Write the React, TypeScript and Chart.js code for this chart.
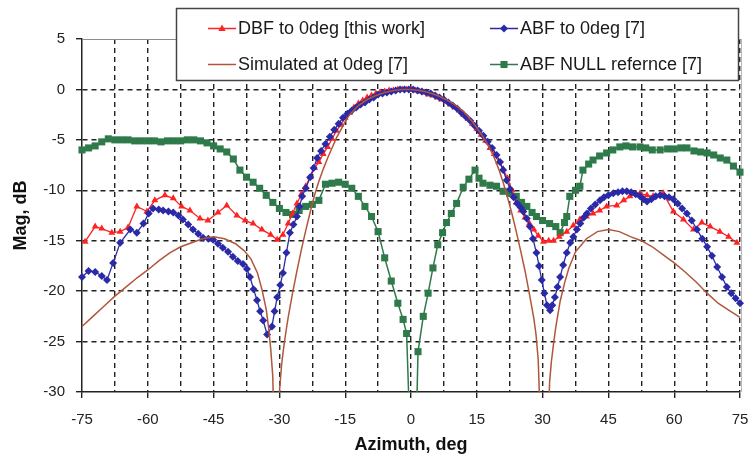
import React, { useEffect, useRef } from 'react';
import { Chart, registerables } from 'chart.js';

Chart.register(...registerables);

const FONT = '"Liberation Sans", Arial, Helvetica, sans-serif';

// Axis ticks
const X_TICKS = [-75, -67.5, -60, -52.5, -45, -37.5, -30, -22.5, -15, -7.5, 0, 7.5, 15, 22.5, 30, 37.5, 45, 52.5, 60, 67.5, 75];
const Y_TICKS = [5, 0, -5, -10, -15, -20, -25, -30];

const SERIES_LABELS = ['DBF to 0deg [this work]', 'ABF to 0deg [7]', 'Simulated at 0deg [7]', 'ABF NULL refernce [7]'];

// [azimuth deg, magnitude dB]
const DBF_POINTS: [number, number][] = [
  [-74.3, -15.1], [-72, -13.6], [-70.5, -13.8], [-68.2, -14.2], [-66.3, -14.1], [-64.5, -13.7], [-62.5, -11.6], [-60.2, -12.1],
  [-58.4, -11.0], [-56.1, -10.5], [-54.2, -10.8], [-52.3, -11.6], [-50.4, -12.0], [-48.1, -12.8], [-46.3, -13.0], [-44, -12.2],
  [-42, -11.5], [-39.7, -12.5], [-37.8, -13.0], [-36, -13.3], [-34, -13.9], [-32, -14.4], [-30.5, -14.9], [-29.2, -14.4], [-28, -13.3],
  [-27, -12.3], [-26, -11.3], [-25, -10.4], [-24, -9.6], [-23, -8.7], [-22, -7.8], [-21, -7.2], [-20, -6.4], [-19, -5.7], [-18, -4.9],
  [-17, -4.1], [-16, -3.5], [-15, -2.8], [-14, -2.3], [-13, -1.8], [-12, -1.4], [-11, -1.1], [-10, -0.8], [-9, -0.6], [-8, -0.4],
  [-7, -0.3], [-6, -0.2], [-5, -0.1], [-4, -0.1], [-3, 0], [-2, 0], [-1, 0], [0, 0], [1, -0.1], [2, -0.2], [3, -0.3], [4, -0.5],
  [5, -0.6], [6, -0.8], [7, -1.0], [8, -1.2], [9, -1.5], [10, -1.8], [11, -2.1], [12, -2.5], [13, -2.9], [14, -3.4], [15, -3.9],
  [16, -4.5], [17, -5.1], [18, -5.8], [19, -6.4], [20, -7.2], [21, -7.9], [22, -8.8], [23, -10.0], [24, -11.2], [25, -12.0],
  [26, -12.7], [27, -13.3], [28, -13.9], [29, -14.5], [30.2, -15.1], [31.4, -15.0], [32.5, -15.0], [33.8, -14.6], [35.5, -14.1],
  [37, -13.5], [38.5, -12.9], [40, -12.6], [41.5, -12.3], [43, -12.0], [44.6, -11.6], [46.9, -11.5], [48.5, -11.0], [49.9, -10.6],
  [52.2, -10.3], [53.8, -10.5], [55.2, -10.6], [57.5, -10.3], [59.8, -12.1], [62.1, -12.9], [64.4, -13.9], [66.3, -13.2],
  [68.2, -13.6], [70.4, -14.1], [72.4, -14.6], [74.3, -15.2],
];

const ABF_POINTS: [number, number][] = [
  [-75, -18.6], [-73.5, -18.0], [-72, -18.1], [-70.5, -18.5], [-69.3, -18.9], [-67.9, -17.2], [-66.3, -15.2], [-64, -13.9],
  [-62.5, -14.2], [-61, -13.3], [-59.8, -12.3], [-58.8, -11.8], [-57.5, -11.9], [-56.5, -12.0], [-55.3, -12.1], [-54.2, -12.2],
  [-53, -12.5], [-52, -12.9], [-50.8, -13.4], [-49.7, -13.9], [-48.5, -14.3], [-47.4, -14.7], [-46.2, -14.8], [-45.1, -14.9],
  [-44, -15.3], [-42.9, -15.7], [-41.7, -16.1], [-40.6, -16.6], [-39.5, -17.0], [-38.3, -17.3], [-37.4, -17.8], [-36.7, -18.6],
  [-35.9, -19.8], [-35.1, -20.9], [-34.4, -22.0], [-33.7, -22.9], [-32.8, -24.3], [-31.7, -23.5], [-31.1, -22.0], [-30.5, -20.6],
  [-29.8, -19.4], [-29.2, -18.2], [-28.4, -16.2], [-27.6, -14.2], [-26.8, -13.4], [-26, -12.6], [-25.4, -11.6], [-24.8, -10.6],
  [-24, -9.8], [-23, -8.7], [-22.2, -7.8], [-21.4, -6.8], [-20.5, -6.1], [-19.5, -5.4], [-18.5, -4.7], [-17.5, -4.0], [-16.5, -3.4],
  [-15.5, -2.8], [-14.5, -2.4], [-13.5, -2.1], [-12.5, -1.8], [-11.5, -1.5], [-10.5, -1.3], [-9.5, -1.0], [-8.5, -0.8], [-7.5, -0.5],
  [-6.5, -0.4], [-5.5, -0.3], [-4.5, -0.2], [-3.5, -0.1], [-2.5, 0], [-1.5, 0], [-0.5, 0], [0.5, 0], [1.5, -0.1], [2.5, -0.2],
  [3.5, -0.3], [4.5, -0.4], [5.5, -0.6], [6.5, -0.8], [7.5, -1.0], [8.5, -1.3], [9.5, -1.6], [10.5, -1.9], [11.5, -2.3], [12.5, -2.7],
  [13.5, -3.1], [14.5, -3.6], [15.5, -4.1], [16.5, -4.6], [17.5, -5.2], [18.5, -5.8], [19.5, -6.5], [20.3, -7.2], [21, -8.0],
  [21.8, -9.0], [22.6, -9.9], [23.4, -10.7], [24.2, -11.3], [25, -11.7], [25.6, -12.1], [26.4, -12.8], [27.1, -13.6], [27.8, -14.8],
  [28.6, -16.2], [29.2, -17.5], [29.8, -18.9], [30.4, -20.2], [31, -21.4], [31.7, -21.9], [32.2, -21.4], [32.8, -20.6], [33.4, -19.6],
  [34, -18.6], [34.7, -17.4], [35.5, -16.2], [36.3, -15.2], [37, -14.6], [37.8, -13.9], [38.6, -13.3], [39.4, -12.7], [40.1, -12.3],
  [41, -11.8], [42, -11.4], [43.1, -11.0], [44, -10.7], [45, -10.5], [46.1, -10.3], [47.2, -10.2], [48.2, -10.1], [49.2, -10.1],
  [50.2, -10.2], [51.2, -10.4], [52.2, -10.6], [53, -10.9], [53.8, -11.1], [54.8, -10.9], [55.8, -10.6], [56.8, -10.5], [57.8, -10.6],
  [58.8, -10.7], [59.8, -10.9], [60.8, -11.3], [61.8, -11.8], [62.9, -12.3], [64, -13.0], [65.2, -13.9], [66.4, -14.8], [67.5, -15.6],
  [68.6, -16.5], [69.8, -17.6], [70.9, -18.6], [72, -19.6], [73, -20.2], [74, -20.7], [75, -21.2],
];

const SIM_POINTS: [number, number][] = [
  [-75, -23.5], [-72.5, -22.5], [-70, -21.5], [-67.5, -20.5], [-65, -19.6], [-62.5, -18.7], [-60, -17.9], [-57.5, -17.0],
  [-55, -16.2], [-52.5, -15.6], [-50, -15.2], [-47.5, -14.8], [-45, -14.6], [-42.5, -14.8], [-40, -15.3], [-38, -16.0],
  [-36.5, -16.8], [-35, -18.2], [-34, -19.8], [-33, -21.8], [-32.5, -23.5], [-32, -25.6], [-31.5, -28.5], [-30.8, -45],
  [-30, -30], [-29.5, -27.3], [-29, -25.5], [-28.5, -24.0], [-28, -22.6], [-27, -20.2], [-26, -18.0], [-25, -15.9], [-24, -14.0],
  [-23, -12.2], [-22, -10.5], [-21, -9.1], [-20, -7.9], [-19, -6.8], [-18, -5.8], [-17, -4.8], [-16, -4.0], [-15, -3.2],
  [-14, -2.5], [-12, -1.6], [-10, -1.0], [-8, -0.6], [-6, -0.3], [-4, -0.1], [-2, 0], [0, 0], [2, -0.1], [4, -0.3], [6, -0.6],
  [8, -1.0], [10, -1.5], [12, -2.2], [14, -3.2], [15, -3.8], [16, -4.4], [17, -5.1], [18, -5.9], [19, -6.8], [20, -7.9],
  [21, -9.2], [22, -10.7], [23, -12.3], [24, -14.1], [25, -16.0], [26, -18.0], [27, -20.3], [28, -22.7], [28.5, -24.3],
  [29, -26.8], [30.4, -45], [31.6, -29.0], [32, -27.0], [32.5, -25.2], [33, -23.6], [34, -21.0], [35, -19.2], [36, -17.7],
  [37.5, -16.1], [40, -14.8], [42.5, -14.1], [45, -13.9], [47.5, -14.1], [50, -14.6], [52.5, -15.0], [55, -15.6], [57.5, -16.4],
  [60, -17.2], [62.5, -18.1], [65, -19.1], [67.5, -20.2], [70, -21.2], [72.5, -21.9], [75, -22.6],
];

const NULL_POINTS: [number, number][] = [
  [-75, -6.0], [-73.5, -5.8], [-72, -5.6], [-70.5, -5.2], [-69, -4.9], [-67.5, -5.0], [-66, -5.0], [-64.5, -5.0], [-63, -5.1],
  [-61.5, -5.1], [-60, -5.1], [-58.5, -5.1], [-57, -5.2], [-55.5, -5.1], [-54, -5.1], [-52.5, -5.1], [-51, -5.0], [-49.5, -5.0],
  [-48, -5.1], [-46.5, -5.3], [-45, -5.6], [-43.5, -5.9], [-42, -6.2], [-40.5, -6.9], [-39, -8.0], [-37.5, -8.7], [-36, -9.2],
  [-34.5, -9.8], [-33, -10.5], [-31.5, -11.2], [-30, -11.8], [-28.5, -12.2], [-27, -12.4], [-25.5, -12.0], [-24, -11.6],
  [-22.5, -11.4], [-21, -11.0], [-19.5, -9.4], [-18, -9.3], [-16.5, -9.2], [-15, -9.4], [-13.5, -9.8], [-12, -10.6], [-10.5, -11.6],
  [-9, -12.6], [-7.5, -14.1], [-6, -16.7], [-4.5, -19.0], [-3, -21.2], [-1.8, -22.8], [-1, -24.2], [0.6, -45], [1.6, -26.0],
  [2.8, -22.5], [3.9, -20.2], [5, -17.7], [6.1, -15.4], [7.2, -14.2], [8.1, -13.2], [9.2, -12.3], [10.4, -11.3], [11.9, -9.7],
  [13.2, -8.9], [14.6, -8.0], [15.5, -8.8], [16.4, -9.3], [18, -9.5], [19.5, -9.6], [21, -10.1], [22.5, -10.3], [24, -10.6],
  [25.2, -11.2], [26.4, -11.6], [27.6, -12.2], [28.6, -12.6], [30, -13.0], [31.6, -13.3], [33, -13.6], [34, -14.2], [35, -13.2],
  [35.5, -12.6], [36.2, -10.6], [37.5, -10.0], [38.5, -9.6], [39.2, -8.0], [40.5, -7.4], [41.5, -7.0], [43, -6.6], [44.6, -6.3],
  [46, -6.0], [47.6, -5.7], [49, -5.6], [50.5, -5.7], [52.2, -5.7], [53.5, -5.8], [55, -6.0], [56.8, -6.0], [58.5, -5.9],
  [60, -5.9], [61.5, -5.8], [62.9, -5.8], [64.5, -6.1], [66, -6.2], [67.5, -6.3], [69, -6.5], [70.5, -6.8], [72, -7.0],
  [73.5, -7.6], [75, -8.2],
];

const COLORS = { dbf: '#ff2222', abf: '#2a2aa8', sim: '#b0563a', nul: '#2e7a4a' };

const toXY = (pts: [number, number][]) => pts.map(([x, y]) => ({ x, y }));

function drawMarker(ctx: CanvasRenderingContext2D, style: string, x: number, y: number, r: number, color: string) {
  ctx.fillStyle = color;
  ctx.beginPath();
  if (style === 'triangle') {
    ctx.moveTo(x, y - r);
    ctx.lineTo(x + r * 0.9, y + r * 0.6);
    ctx.lineTo(x - r * 0.9, y + r * 0.6);
  } else if (style === 'rectRot') {
    ctx.moveTo(x, y - r);
    ctx.lineTo(x + r, y);
    ctx.lineTo(x, y + r);
    ctx.lineTo(x - r, y);
  } else if (style === 'rect') {
    const s = r * Math.SQRT1_2;
    ctx.rect(x - s, y - s, 2 * s, 2 * s);
  }
  ctx.closePath();
  ctx.fill();
}

const framePlugin = {
  id: 'frame',
  beforeDatasetsDraw(chart: any) {
    const { ctx, chartArea: a } = chart;
    ctx.save();
    ctx.lineWidth = 1;
    ctx.strokeStyle = '#8c8c8c';
    ctx.beginPath();
    ctx.moveTo(a.left, a.top + 0.5);
    ctx.lineTo(a.right + 1.5, a.top + 0.5);
    ctx.stroke();
    ctx.strokeStyle = '#b8b8b8';
    ctx.beginPath();
    ctx.moveTo(a.right + 1.5, a.top);
    ctx.lineTo(a.right + 1.5, a.bottom);
    ctx.stroke();
    ctx.restore();
  },
};

const legendPlugin = {
  id: 'boxLegend',
  afterDraw(chart: any) {
    const ctx: CanvasRenderingContext2D = chart.ctx;
    ctx.save();
    ctx.fillStyle = '#ffffff';
    ctx.fillRect(176, 8, 562, 72);
    ctx.strokeStyle = '#444444';
    ctx.lineWidth = 1.5;
    ctx.strokeRect(176.5, 8.5, 562, 72);
    const slots = [
      { ds: 0, x: 208, y: 28 },
      { ds: 1, x: 490, y: 28 },
      { ds: 2, x: 208, y: 64 },
      { ds: 3, x: 490, y: 64 },
    ];
    ctx.font = `18px ${FONT}`;
    ctx.textBaseline = 'middle';
    ctx.textAlign = 'left';
    slots.forEach((s) => {
      const d = chart.data.datasets[s.ds];
      ctx.strokeStyle = d.borderColor;
      ctx.lineWidth = 1.5;
      ctx.beginPath();
      ctx.moveTo(s.x, s.y + 0.5);
      ctx.lineTo(s.x + 28, s.y + 0.5);
      ctx.stroke();
      if (d.pointRadius > 0) drawMarker(ctx, d.pointStyle, s.x + 14, s.y + 0.5, d.pointRadius, d.pointBackgroundColor);
      ctx.fillStyle = '#1a1a1a';
      ctx.fillText(d.label, s.x + 30, s.y + 1);
    });
    ctx.restore();
  },
};

export default function App() {
  const ref = useRef<HTMLCanvasElement>(null);

  useEffect(() => {
    const canvas = ref.current;
    if (!canvas) return;
    const clip = { left: 6, right: 6, top: 6, bottom: 0 };
    const chart = new Chart(canvas, {
      type: 'scatter',
      data: {
        datasets: [
          {
            label: SERIES_LABELS[0], data: toXY(DBF_POINTS), showLine: true, borderColor: COLORS.dbf, borderWidth: 1.3,
            pointStyle: 'triangle', pointRadius: 4, pointBackgroundColor: COLORS.dbf, pointBorderColor: COLORS.dbf, pointBorderWidth: 0,
            order: 2, clip,
          },
          {
            label: SERIES_LABELS[1], data: toXY(ABF_POINTS), showLine: true, borderColor: COLORS.abf, borderWidth: 1.3,
            pointStyle: 'rectRot', pointRadius: 4, pointBackgroundColor: COLORS.abf, pointBorderColor: COLORS.abf, pointBorderWidth: 0,
            order: 1, clip,
          },
          {
            label: SERIES_LABELS[2], data: toXY(SIM_POINTS), showLine: true, borderColor: COLORS.sim, borderWidth: 1.5,
            pointRadius: 0, pointBackgroundColor: COLORS.sim, order: 0, clip,
          },
          {
            label: SERIES_LABELS[3], data: toXY(NULL_POINTS), showLine: true, borderColor: COLORS.nul, borderWidth: 1.5,
            pointStyle: 'rect', pointRadius: 5, pointBackgroundColor: COLORS.nul, pointBorderColor: COLORS.nul, pointBorderWidth: 0,
            order: 3, clip,
          },
        ],
      },
      options: {
        animation: false,
        responsive: false,
        devicePixelRatio: 1,
        layout: { padding: { top: 39, right: 9, left: 0, bottom: 0 } },
        plugins: { legend: { display: false }, tooltip: { enabled: false } },
        scales: {
          x: {
            type: 'linear',
            min: -75,
            max: 75,
            afterBuildTicks: (axis: any) => { axis.ticks = X_TICKS.map((value) => ({ value })); },
            afterFit: (axis: any) => { axis.height = 66; axis.paddingLeft = 0; axis.paddingRight = 0; },
            ticks: {
              autoSkip: false,
              maxRotation: 0,
              padding: 13,
              color: '#222',
              font: { size: 15, family: FONT },
              callback: (v: any) => (Number(v) % 15 === 0 ? String(v) : ''),
            },
            grid: {
              color: (c: any) => (c.tick && c.tick.value === -75 ? 'rgba(0,0,0,0)' : '#222'),
              lineWidth: 1.4,
              tickLength: 6,
              tickWidth: 1.4,
              tickColor: (c: any) => (c.tick && Number(c.tick.value) % 15 === 0 ? '#222' : 'rgba(0,0,0,0)'),
            },
            border: { display: true, color: '#222', width: 1.5, dash: [5, 4] },
            title: {
              display: true, text: 'Azimuth, deg', color: '#111',
              font: { size: 18, weight: 'bold', family: FONT }, padding: { top: 0, bottom: 2 },
            },
          },
          y: {
            type: 'linear',
            min: -30,
            max: 5,
            afterBuildTicks: (axis: any) => { axis.ticks = Y_TICKS.slice().reverse().map((value) => ({ value })); },
            afterFit: (axis: any) => { axis.width = 82; axis.paddingTop = 0; axis.paddingBottom = 0; },
            ticks: { padding: 11, color: '#222', font: { size: 15, family: FONT } },
            grid: {
              color: (c: any) => (c.tick && (c.tick.value === 5 || c.tick.value === -30) ? 'rgba(0,0,0,0)' : '#222'),
              lineWidth: 1.4,
              tickLength: 6,
              tickWidth: 1.4,
              tickColor: '#222',
            },
            border: { display: true, color: '#222', width: 1.5, dash: [5, 4] },
            title: {
              display: true, text: 'Mag, dB', color: '#111',
              font: { size: 18, weight: 'bold', family: FONT }, padding: { top: 10, bottom: 0 },
            },
          },
        },
      },
      plugins: [framePlugin, legendPlugin],
    } as any);
    return () => chart.destroy();
  }, []);

  return (
    <div style={{ position: 'fixed', left: 0, top: 0, width: 749, height: 458, background: '#ffffff' }}>
      <canvas ref={ref} width={749} height={458} style={{ display: 'block', width: 749, height: 458 }} />
    </div>
  );
}
